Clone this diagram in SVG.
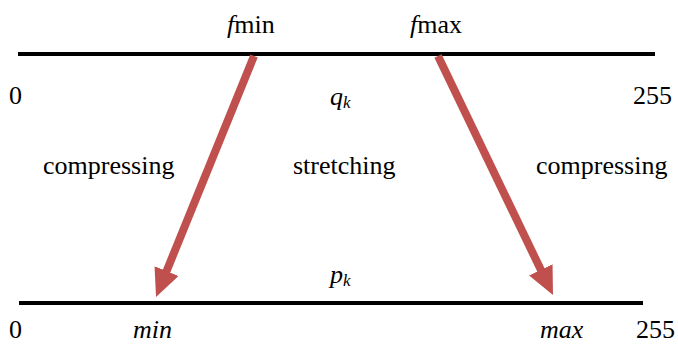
<svg xmlns="http://www.w3.org/2000/svg" width="678" height="345" viewBox="0 0 678 345">
<defs>
<marker id="head" viewBox="0 0 28 26" refX="5" refY="13" markerWidth="28" markerHeight="26" markerUnits="userSpaceOnUse" orient="auto">
<path d="M0,0 L28,13 L0,26 z" fill="#C0504D"/>
</marker>
</defs>
<g id="top-axis">
<line x1="18" y1="54" x2="655" y2="54" stroke="#000" stroke-width="4"/>
<text x="9" y="104" font-family="'Liberation Serif', 'Times New Roman', serif" font-size="26">0</text>
<text x="633" y="104" font-family="'Liberation Serif', 'Times New Roman', serif" font-size="26">255</text>
<text x="227" y="33" font-family="'Liberation Serif', 'Times New Roman', serif" font-size="26"><tspan font-style="italic">f</tspan>min</text>
<text x="410" y="33" font-family="'Liberation Serif', 'Times New Roman', serif" font-size="26"><tspan font-style="italic">f</tspan>max</text>
<text x="330" y="105" font-family="'Liberation Serif', 'Times New Roman', serif" font-size="26" font-style="italic">q<tspan font-size="17" dy="3">k</tspan></text>
</g>
<g id="bottom-axis">
<line x1="19" y1="303" x2="643" y2="303" stroke="#000" stroke-width="4"/>
<text x="9" y="338" font-family="'Liberation Serif', 'Times New Roman', serif" font-size="26">0</text>
<text x="636" y="338" font-family="'Liberation Serif', 'Times New Roman', serif" font-size="26">255</text>
<text x="133" y="338" font-family="'Liberation Serif', 'Times New Roman', serif" font-size="26" font-style="italic">min</text>
<text x="540" y="338" font-family="'Liberation Serif', 'Times New Roman', serif" font-size="26" font-style="italic">max</text>
<text x="330" y="283" font-family="'Liberation Serif', 'Times New Roman', serif" font-size="26" font-style="italic">p<tspan font-size="17" dy="3">k</tspan></text>
</g>
<g id="regions">
<text x="43" y="174" font-family="'Liberation Serif', 'Times New Roman', serif" font-size="26">compressing</text>
<text x="293" y="174" font-family="'Liberation Serif', 'Times New Roman', serif" font-size="26">stretching</text>
<text x="536" y="174" font-family="'Liberation Serif', 'Times New Roman', serif" font-size="26">compressing</text>
</g>
<g id="connectors" stroke="#C0504D" stroke-width="8" fill="none">
<line x1="254" y1="56" x2="164.7" y2="275.7" marker-end="url(#head)"/>
<line x1="438" y1="56" x2="543" y2="274.3" marker-end="url(#head)"/>
</g>
</svg>
